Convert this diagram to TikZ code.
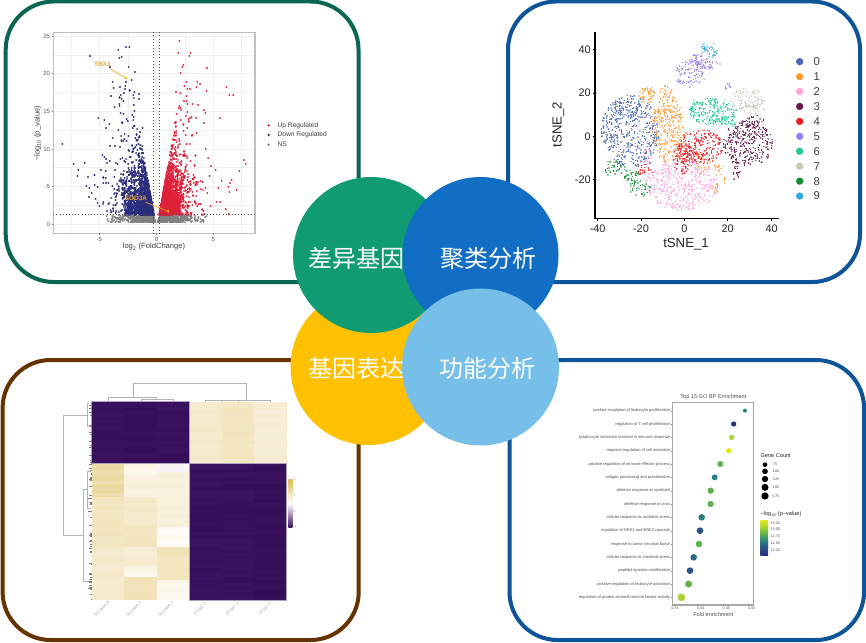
\documentclass[tikz,border=0pt]{standalone}
\usepackage{fontspec}
\setmainfont{Liberation Sans}
\newfontfamily\cjk{Noto Sans CJK SC}
\newcommand{\fsz}[1]{\fontsize{#1}{#1}\selectfont}

\definecolor{pgreen}{HTML}{0A6650}
\definecolor{pblue}{HTML}{0D5499}
\definecolor{pbrown}{HTML}{663300}
\definecolor{cgreen}{HTML}{109B72}
\definecolor{cblue}{HTML}{116EC4}
\definecolor{cyellow}{HTML}{FFC000}
\definecolor{clight}{HTML}{75BFE8}
\definecolor{vup}{HTML}{DF2039}
\definecolor{vdown}{HTML}{2A2C7C}
\definecolor{vns}{HTML}{808080}
\definecolor{vlabel}{HTML}{F5A623}
\definecolor{ts0}{HTML}{4A67B8}
\definecolor{ts1}{HTML}{FF9933}
\definecolor{ts2}{HTML}{FFA8DC}
\definecolor{ts3}{HTML}{661A4D}
\definecolor{ts4}{HTML}{EE1C25}
\definecolor{ts5}{HTML}{9A7FF5}
\definecolor{ts6}{HTML}{22CC99}
\definecolor{ts7}{HTML}{CCC8B8}
\definecolor{ts8}{HTML}{0E9030}
\definecolor{ts9}{HTML}{33A8E0}
\definecolor{hmp}{HTML}{3B1260}
\definecolor{hmq}{HTML}{330D58}
\definecolor{hmk}{HTML}{D9B94A}
\definecolor{cr1}{HTML}{EAD79C}
\definecolor{cr2}{HTML}{F3E4BC}
\definecolor{cr3}{HTML}{F5E8C8}
\definecolor{cr4}{HTML}{F7EDD5}
\definecolor{cr5}{HTML}{FDF9EF}
\definecolor{cr6}{HTML}{FAF3E0}
\definecolor{cr7}{HTML}{F8EFDA}
\definecolor{cr8}{HTML}{F1E2B8}
\definecolor{cr9}{HTML}{F6F2FA}
\definecolor{vi1}{HTML}{E5E71A}
\definecolor{vi2}{HTML}{A8D330}
\definecolor{vi3}{HTML}{5CB04D}
\definecolor{vi4}{HTML}{2A7F82}
\definecolor{vi5}{HTML}{2C4F85}
\definecolor{vi6}{HTML}{27307F}

\tikzset{
  panelbox/.style={draw=#1, line width=3pt, rounded corners=36pt},
  bigcircle/.style={fill=#1, draw=none},
  bigtext/.style={text=white, inner sep=0pt, font=\cjk\fsz{18}},
  dendro/.style={draw=black!30, line width=0.35pt},
  speck/.style={draw=#1, line cap=round, line width=1.65pt},
  tspeck/.style={draw=#1, line cap=round, line width=1.1pt},
  ticktext/.style={text=black!65, inner sep=0pt, font=\fsz{4.5}},
  golabel/.style={text=black!70, inner sep=0pt, anchor=east, font=\fsz{3}},
  hmlabel/.style={text=black!40, inner sep=0pt, rotate=45, font=\fsz{3}},
  legtext/.style={text=black!75, inner sep=0pt, anchor=west, font=\fsz{5}},
}

\begin{document}
\begin{tikzpicture}[x=0.75pt, y=-0.75pt]
  \useasboundingbox (0,0) rectangle (866,642);
  \fill[white] (0,0) rectangle (866,642);
  \pgfmathsetseed{4242}

  \draw[panelbox=pgreen] (5.7,1.5) rectangle (358.5,282);
  \draw[panelbox=pblue] (508,1.5) rectangle (860,282);
  \draw[panelbox=pbrown] (2.6,360) rectangle (358.7,640);
  \draw[panelbox=pblue] (509.5,360) rectangle (864,640);

  % Volcano plot
  \begin{scope}[scale=1/3]
    \foreach \gx in {213,298,384,470,555,640,725} {
      \draw[black!6, line width=0.3pt] (\gx,97) -- (\gx,700);
    }
    \foreach \gy in {108,165,221,278,334,390,447,503,560,616,673} {
      \draw[black!6, line width=0.3pt] (160,\gy) -- (765,\gy);
    }
    \foreach \k in {1,...,800} {
      \pgfmathsetmacro\vy{645+rnd*22}
      \pgfmathsetmacro\vx{(3+(670-\vy)*0.35-ln(rnd+.03)*40)*(2*random(0,1)-1)+470}
      \draw[speck=vns] (\vx,\vy) -- ++(0.01,0);
    }
    % filled base of each wing
    \foreach \vcol/\sgn/\num/\wid in {vdown/-1/550/85, vup/1/600/58} {
      \foreach \k in {1,...,\num} {
        \pgfmathsetmacro\vy{641-150*rnd*rnd}
        \pgfmathsetmacro\vx{470+\sgn*(8+0.17*(645-\vy)+\wid*rnd)}
        \draw[speck=\vcol] (\vx,\vy) -- ++(0.01,0);
      }
    }
    % dense part and sparse part of each wing
    \foreach \vcol/\sgn/\num/\sy/\sx in {vdown/-1/800/55/24, vup/1/950/55/20,
      vdown/-1/200/75/30, vup/1/230/75/42, vdown/-1/60/110/22, vup/1/70/110/40} {
      \foreach \k in {1,...,\num} {
        \pgfmathsetmacro\vy{max(130,645+ln(rnd+.001)*\sy)}
        \pgfmathsetmacro\vx{470+\sgn*min(270,8+0.17*(645-\vy)-ln(rnd+.001)*\sx)}
        \draw[speck=\vcol] (\vx,\vy) -- ++(0.01,0);
      }
    }
    \foreach \vx/\vy in {270/168,355/151,378/140,388/140,365/170,358/175,386/200,405/215,395/240,338/246,378/245,
      376/257,341/265,360/262,375/268,372/280,403/275,400/285,333/287,362/285,417/283,417/296,365/298,370/303,
      344/322,358/313,362/340,370/341,295/355,313/360,328/372,318/383,380/358,401/352,400/360,355/390,187/433,
      307/465,313/472,318/477,330/437,345/437,221/493,235/510,254/489,232/528,264/531,303/511,345/510,259/558,
      268/564,284/556,293/562,310/550,318/550,275/578,267/591,287/598,293/608,310/605,298/618,325/612,340/615,
      358/543,332/630,340/632,428/385,420/395} {
      \draw[speck=vdown] (\vx,\vy) -- ++(0.01,0);
    }
    \foreach \vx/\vy in {538/123,535/160,571/158,568/168,550/195,547/200,621/204,542/219,559/245,600/252,590/262,
      553/257,679/261,620/272,688/284,528/275,541/278,562/268,570/268,560/287,552/302,560/303,594/314,612/330,
      578/312,563/312,660/353,536/325,570/355,575/352,542/360,612/370,590/398,732/480,737/492,718/513,647/510,
      633/497,617/447,690/550,695/540,710/570,685/560,665/543,688/575,655/565,622/578,650/605,660/605,632/618} {
      \draw[speck=vup] (\vx,\vy) -- ++(0.01,0);
    }
    \draw[black!25, line width=1.1pt] (160,97) rectangle (765,700);
    \draw[black!70, line width=0.35pt, dotted] (160,643) -- (765,643);
    \draw[black!70, line width=0.35pt, dotted] (461,97) -- (461,700);
    \draw[black!70, line width=0.35pt, dotted] (479,97) -- (479,700);

    \foreach \lab/\gy [count=\i] in {25/108,20/221,15/334,10/447,5/560,0/673} {
      \node[ticktext, anchor=east] (vytick\i) at (151,\gy) {\lab};
      \draw[black!50, line width=0.3pt] (155,\gy) -- (160,\gy);
    }
    \foreach \lab/\gx [count=\i] in {-5/298,0/470,5/640} {
      \node[ticktext] (vxtick\i) at (\gx,717) {\lab};
      \draw[black!50, line width=0.3pt] (\gx,700) -- (\gx,705);
    }
    \node[text=black!75, inner sep=0pt, font=\fsz{5.7}] (vxname) at (462,741) {log\textsubscript{2} (FoldChange)};
    \node[text=black!75, inner sep=0pt, font=\fsz{5.7}, rotate=90] (vyname) at (113,400) {−log\textsubscript{10} (p\_value)};

    \foreach \lab/\vcol/\gy [count=\i] in {Up Regulated/vup/376,Down Regulated/vdown/405,NS/vns/434} {
      \fill[\vcol] (806,\gy) circle (4);
      \node[legtext] (vleg\i) at (832,\gy) {\lab};
    }

    \node[text=vlabel, inner sep=1pt, font=\bfseries\fsz{4.8}] (tbxlabel) at (307,194) {TBX3};
    \coordinate (tbxpoint) at (378,234);
    \draw[vlabel, line width=0.5pt] (tbxlabel) -- (tbxpoint);
    \fill[vlabel] (tbxpoint) circle (4);
    \node[text=vlabel, inner sep=1pt, font=\bfseries\fsz{4.8}] (sodlabel) at (408,595) {SOD3A};
    \coordinate (sodpoint) at (505,634);
    \draw[vlabel, line width=0.5pt] (sodlabel) -- (sodpoint);
    \fill[vlabel] (sodpoint) circle (4);
  \end{scope}

  % tSNE plot
  \begin{scope}[shift={(505,0)}, scale=1/3]
    \foreach \tcol/\cx/\cy/\rx/\ry/\num in {
      ts0/375/395/75/95/460, ts0/370/320/35/25/60,
      ts1/490/385/42/90/300, ts1/427/285/22/22/50, ts1/482/270/18/12/15, ts1/590/490/22/28/35,
      ts1/640/510/14/25/15, ts1/635/565/12/14/12, ts1/660/545/4/14/5,
      ts2/530/555/95/65/460, ts2/430/460/15/30/20,
      ts3/730/430/65/60/300, ts3/750/370/25/22/35, ts3/692/505/12/30/25,
      ts4/585/440/60/45/220, ts4/535/475/28/40/90, ts4/420/505/25/20/25,
      ts5/555/220/42/38/110, ts5/612/190/30/15/40, ts5/575/180/18/15/25, ts5/668/260/8/10/10,
      ts6/625/335/62/35/190, ts6/665/370/25/20/20, ts6/575/325/20/22/30,
      ts7/725/300/45/30/90, ts7/750/325/25/25/30,
      ts8/328/505/28/22/35, ts8/380/530/20/20/35, ts8/405/565/28/22/35,
      ts9/612/150/22/22/40} {
      \foreach \k in {1,...,\num} {
        \pgfmathsetmacro\rr{1.16*sqrt(rnd)}
        \pgfmathsetmacro\aa{360*rnd}
        \draw[tspeck=\tcol] ({\cx+\rx*\rr*cos(\aa)},{\cy+\ry*\rr*sin(\aa)}) -- ++(0.01,0);
      }
    }
    \draw[black, line width=0.9pt] (270,97) -- (270,655) -- (822,655);

    % Axis ticks
    \foreach \lab/\gx [count=\i] in {-40/278,-20/408,0/538,20/668,40/800} {
      \draw[black, line width=0.7pt] (\gx,655) -- (\gx,662);
      \node[text=black!85, inner sep=0pt, font=\fsz{8.2}] (txtick\i) at (\gx,687) {\lab};
    }
    \foreach \lab/\gy [count=\i] in {40/148,20/279,0/409,-20/539} {
      \draw[black, line width=0.7pt] (263,\gy) -- (270,\gy);
      \node[text=black!85, inner sep=0pt, anchor=east, font=\fsz{8.2}] (tytick\i) at (258,\gy) {\lab};
    }
    \node[text=black!85, inner sep=0pt, font=\fsz{9.9}] (txname) at (543,733) {tSNE\_1};
    \node[text=black!85, inner sep=0pt, font=\fsz{9.9}, rotate=90] (tyname) at (160,374) {tSNE\_2};

    \foreach \lab [count=\i] in {0,...,9} {
      \pgfmathsetmacro\gy{185+(\i-1)*44.8}
      \fill[ts\lab] (884,\gy) circle (11);
      \node[text=black!75, inner sep=0pt, font=\fsz{8.5}] (tleg\lab) at (935,\gy) {\lab};
    }
  \end{scope}

  % Heatmap
  \begin{scope}[shift={(0,355)}, scale=1/3]
    \foreach \xa/\xb/\ya/\yb/\cola/\colb in {
      275/373/140/325/hmp/hmq, 373/471/140/325/hmq/hmp, 471/568/140/325/hmp/hmq,
      568/665/325/735/hmp/hmq, 665/762/325/735/hmp/hmq, 762/860/325/735/hmq/hmp,
      568/665/140/325/cr3/cr4, 665/762/140/325/cr2/cr3, 762/860/140/325/cr7/cr3,
      275/373/325/425/cr1/cr2, 275/373/425/575/cr2/cr3, 275/373/575/665/cr3/cr4, 275/373/665/735/cr4/cr3,
      373/471/325/360/cr5/cr6, 373/471/360/425/cr6/cr7, 373/471/425/515/cr3/cr4, 373/471/515/575/cr2/cr3,
      373/471/575/635/cr7/cr3, 373/471/635/665/cr5/cr6, 373/471/665/735/cr8/cr2,
      471/568/325/350/cr9/cr5, 471/568/350/425/cr6/cr7, 471/568/425/515/cr7/cr6, 471/568/515/575/cr5/white,
      471/568/575/600/cr8/cr2, 471/568/600/675/cr2/cr3, 471/568/675/735/cr5/cr6} {
      \pgfmathsetmacro\yc{\ya+9}
      \foreach \yy in {\ya,\yc,...,\yb} {
        \pgfmathsetmacro\ye{min(\yy+9.5,\yb)}
        \pgfmathsetmacro\pct{random(30,100)}
        \fill[\cola!\pct!\colb] (\xa,\yy) rectangle (\xb,\ye);
      }
    }
    \draw[white, line width=0.5pt] (275,325) -- (860,325);
    \draw[white, line width=0.5pt] (568,140) -- (568,735);
    \draw[hmp!40, line width=0.4pt] (568,325) rectangle (860,735);
    \draw[hmp!40, line width=0.4pt] (275,140) rectangle (568,325);

    % Dendrograms
    \draw[dendro] (400,127) -- (400,85) -- (738,85) -- (738,135);
    \draw[dendro] (325,140) -- (325,127) -- (470,127) -- (470,133);
    \draw[dendro] (424,140) -- (424,133) -- (520,133) -- (520,140);
    \draw[dendro] (615,140) -- (615,137) -- (714,137) -- (714,140);
    \draw[dendro] (665,140) -- (665,135) -- (812,135) -- (812,140);
    \draw[dendro] (265,180) -- (190,180) -- (190,540) -- (250,540);
    \draw[dendro] (265,403) -- (250,403) -- (250,680) -- (265,680);
    \draw[dendro] (268,145) -- (262,145) -- (262,215) -- (268,215);
    \draw[dendro] (272,350) -- (262,350) -- (262,460) -- (272,460);
    \foreach \k in {1,...,70} {
      \pgfmathsetmacro\yy{145+rnd*590}
      \pgfmathsetmacro\xx{265+rnd*7}
      \draw[black!50, line width=0.3pt] (\xx,\yy) -- (275,\yy);
    }

    \foreach \lab/\gx [count=\i] in {012.AAA.4/305,012.AAA.2/402,012.AAA.1/498,OT.MC.1/600,OT.MC.3/697,OT.MC.2/795} {
      \node[hmlabel] (hmname\i) at (\gx,762) {\lab};
    }

    % Colour key
    \shade[top color=hmk, bottom color=white] (865,372) rectangle (877,445);
    \shade[top color=white, bottom color=hmp] (865,445) rectangle (877,517);
    \foreach \lab/\gy [count=\i] in {2/373,1/422,0/470,-1/515} {
      \node[text=black!50, inner sep=0pt, anchor=west, font=\fsz{2.5}] (hmkey\i) at (880,\gy) {\lab};
    }
  \end{scope}

  % GO enrichment
  \begin{scope}[shift={(505,355)}, scale=1/3]
    \node[text=black!70, inner sep=0pt, font=\fsz{4.2}] (gotitle) at (625,127) {Top 15 GO BP Enrichment};
    \foreach \lab/\gx/\rad/\vcol [count=\i] in {
      positive regulation of leukocyte proliferation/720/6/vi4,
      regulation of T cell proliferation/686/8/vi6,
      lymphocyte activation involved in immune response/680/8/vi2,
      negative regulation of cell activation/671/8/vi1,
      positive regulation of immune effector process/646/9/vi3,
      antigen processing and presentation/629/9/vi4,
      defense response to symbiont/617/9.5/vi3,
      defense response to virus/617/9.5/vi3,
      cellular response to oxidative stress/590/10/vi4,
      regulation of ERK1 and ERK2 cascade/585/10/vi5,
      response to tumor necrosis factor/582/10/vi3,
      cellular response to chemical stress/566/10/vi4!60!vi5,
      peptidyl-tyrosine modification/555/10/vi5,
      positive regulation of leukocyte activation/551/10.5/vi3,
      {regulation of protein serine/threonine kinase activity}/529/11.5/vi2} {
      \pgfmathsetmacro\gy{167+(\i-1)*40}
      \node[golabel] (goname\i) at (496,\gy) {\lab};
      \draw[black!50, line width=0.25pt] (499,\gy) -- (503,\gy);
      \fill[\vcol] (\gx,\gy) circle (\rad);
    }
    \draw[black!35, line width=1pt] (503,142) rectangle (745,750);
    \foreach \lab/\gx [count=\i] in {0.35/510,0.40/587,0.45/664,0.50/740} {
      \node[text=black!65, inner sep=0pt, font=\fsz{2.8}] (gotick\i) at (\gx,761) {\lab};
    }
    \node[text=black!70, inner sep=0pt, font=\fsz{4.2}] (goxname) at (625,778) {Fold enrichment};

    % Legends
    \node[text=black!85, inner sep=0pt, anchor=west, font=\fsz{4.2}] (goleg) at (766,302) {Gene Count};
    \foreach \lab/\gy/\rad [count=\i] in {75/329/7,100/349/8.5,125/372/9.5,150/397/10.5,175/423/11} {
      \fill[black] (780,\gy) circle (\rad);
      \node[text=black!70, inner sep=0pt, anchor=west, font=\fsz{2.8}] (gosize\i) at (803,\gy) {\lab};
    }
    \node[text=black!85, inner sep=0pt, anchor=west, font=\fsz{4.2}] (gokey) at (766,476) {−log\textsubscript{10} (p−value)};
    \shade[top color=vi1, bottom color=vi2] (766,495) rectangle (789,516);
    \shade[top color=vi2, bottom color=vi3] (766,516) rectangle (789,537);
    \shade[top color=vi3, bottom color=vi4] (766,537) rectangle (789,558);
    \shade[top color=vi4, bottom color=vi5] (766,558) rectangle (789,579);
    \shade[top color=vi5, bottom color=vi6] (766,579) rectangle (789,600);
    \foreach \lab/\gy [count=\i] in {13.25/504,13.00/523,12.75/544,12.50/565,12.25/587} {
      \node[text=black!70, inner sep=0pt, anchor=west, font=\fsz{2.8}] (gocol\i) at (796,\gy) {\lab};
    }
  \end{scope}

  % Centre circles
  \fill[bigcircle=cyellow] (368.5,367) circle (78);
  \fill[bigcircle=cgreen] (371,255) circle (78);
  \fill[bigcircle=cblue] (480.5,255) circle (78);
  \fill[bigcircle=clight] (480.5,367) circle (78.5);
  \node[bigtext] (diff) at (356,258) {差异基因};
  \node[bigtext] (cluster) at (488,258) {聚类分析};
  \node[bigtext] (express) at (356,368) {基因表达};
  \node[bigtext] (func) at (487.7,368) {功能分析};
\end{tikzpicture}
\end{document}
